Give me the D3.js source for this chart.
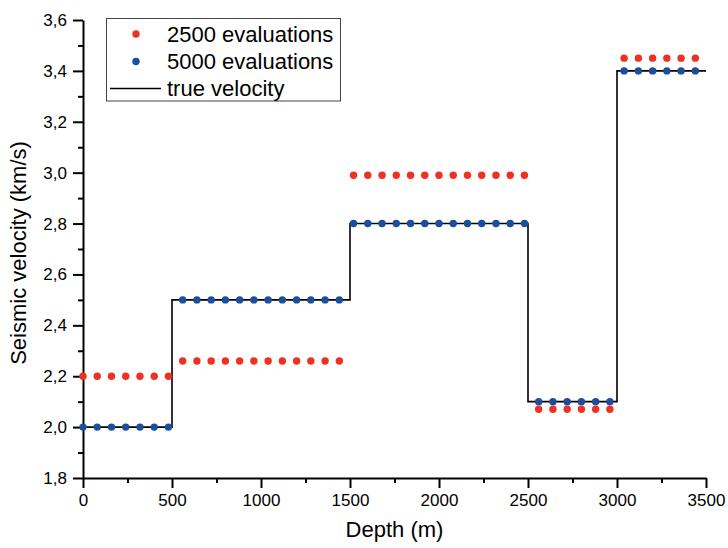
<!DOCTYPE html>
<html>
<head>
<meta charset="utf-8">
<script src="https://cdn.jsdelivr.net/npm/d3@7"></script>
<style>
  body { margin: 0; background: #fff; }
  svg { display: block; font-family: "Liberation Sans", Arial, sans-serif; }
</style>
</head>
<body>
<script>
var width = 728;
var height = 548;
var margin = { top: 20, right: 22, bottom: 70, left: 83 };

// sampled depths (m)
var depths = [0, 80, 160, 240, 320, 400, 480,
  560, 640, 720, 800, 880, 960, 1040, 1120, 1200, 1280, 1360, 1440,
  1520, 1600, 1680, 1760, 1840, 1920, 2000, 2080, 2160, 2240, 2320, 2400, 2480,
  2560, 2640, 2720, 2800, 2880, 2960,
  3040, 3120, 3200, 3280, 3360, 3440];

var vel2500 = [2.2, 2.2, 2.2, 2.2, 2.2, 2.2, 2.2,
  2.26, 2.26, 2.26, 2.26, 2.26, 2.26, 2.26, 2.26, 2.26, 2.26, 2.26, 2.26,
  2.99, 2.99, 2.99, 2.99, 2.99, 2.99, 2.99, 2.99, 2.99, 2.99, 2.99, 2.99, 2.99,
  2.07, 2.07, 2.07, 2.07, 2.07, 2.07,
  3.45, 3.45, 3.45, 3.45, 3.45, 3.45];

var vel5000 = [2.0, 2.0, 2.0, 2.0, 2.0, 2.0, 2.0,
  2.5, 2.5, 2.5, 2.5, 2.5, 2.5, 2.5, 2.5, 2.5, 2.5, 2.5, 2.5,
  2.8, 2.8, 2.8, 2.8, 2.8, 2.8, 2.8, 2.8, 2.8, 2.8, 2.8, 2.8, 2.8,
  2.1, 2.1, 2.1, 2.1, 2.1, 2.1,
  3.4, 3.4, 3.4, 3.4, 3.4, 3.4];

// true model: layer tops and velocities
var layerTop = [0, 500, 1500, 2500, 3000, 3500];
var layerVel = [2.0, 2.5, 2.8, 2.1, 3.4, 3.4];

var xTicks = [0, 500, 1000, 1500, 2000, 2500, 3000, 3500];
var yTicks = [1.8, 2.0, 2.2, 2.4, 2.6, 2.8, 3.0, 3.2, 3.4, 3.6];

var seriesNames = ["2500 evaluations", "5000 evaluations", "true velocity"];
var red = "#ef3124";
var blue = "#1c4e9e";

var svg = d3.select("body").append("svg")
  .attr("width", width)
  .attr("height", height);

var x = d3.scaleLinear().domain([0, 3500]).range([margin.left, width - margin.right]);
var y = d3.scaleLinear().domain([1.8, 3.6]).range([height - margin.bottom, margin.top]);

var fmt = function(d) { return d3.format(".1f")(d).replace(".", ","); };

// minor ticks
var xMinor = d3.range(250, 3500, 500);
var yMinor = d3.range(1.9, 3.6, 0.2);

svg.append("g")
  .attr("transform", "translate(0," + y(1.8) + ")")
  .call(d3.axisBottom(x).tickValues(xTicks).tickSize(10).tickPadding(6).tickSizeOuter(0).tickFormat(d3.format("d")));
svg.append("g")
  .attr("transform", "translate(0," + y(1.8) + ")")
  .call(d3.axisBottom(x).tickValues(xMinor).tickSize(5).tickSizeOuter(0).tickFormat(""))
  .select(".domain").remove();

svg.append("g")
  .attr("transform", "translate(" + x(0) + ",0)")
  .call(d3.axisLeft(y).tickValues(yTicks).tickSize(10).tickPadding(6).tickSizeOuter(0).tickFormat(fmt));
svg.append("g")
  .attr("transform", "translate(" + x(0) + ",0)")
  .call(d3.axisLeft(y).tickValues(yMinor).tickSize(5).tickSizeOuter(0).tickFormat(""))
  .select(".domain").remove();

svg.selectAll(".domain").attr("stroke", "#000").attr("stroke-width", 2);
svg.selectAll(".tick line").attr("stroke", "#000").attr("stroke-width", 2);
svg.selectAll(".tick text").attr("fill", "#000").style("font-size", "17px");

// axis titles
svg.append("text")
  .attr("x", (x(0) + x(3500)) / 2)
  .attr("y", 537)
  .attr("text-anchor", "middle")
  .style("font-size", "22px")
  .text("Depth (m)");

svg.append("text")
  .attr("transform", "translate(26," + 253 + ") rotate(-90)")
  .attr("text-anchor", "middle")
  .style("font-size", "22px")
  .text("Seismic velocity (km/s)");

// true velocity step line
var line = d3.line()
  .x(function(d, i) { return x(layerTop[i]); })
  .y(function(d) { return y(d); })
  .curve(d3.curveStepAfter);

svg.append("path")
  .datum(layerVel)
  .attr("d", line)
  .attr("fill", "none")
  .attr("stroke", "#000")
  .attr("stroke-width", 1.6);

// points
svg.append("g").selectAll("circle")
  .data(vel2500)
  .enter().append("circle")
  .attr("cx", function(d, i) { return x(depths[i]); })
  .attr("cy", function(d) { return y(d); })
  .attr("r", 3.7)
  .attr("fill", red);

svg.append("g").selectAll("circle")
  .data(vel5000)
  .enter().append("circle")
  .attr("cx", function(d, i) { return x(depths[i]); })
  .attr("cy", function(d) { return y(d); })
  .attr("r", 3.7)
  .attr("fill", blue);

// legend
var legend = svg.append("g");
legend.append("rect")
  .attr("x", 106.5).attr("y", 18.5)
  .attr("width", 234).attr("height", 82.5)
  .attr("fill", "#fff")
  .attr("stroke", "#444")
  .attr("stroke-width", 1);

var rowY = [34, 61.5, 88.5];
legend.append("circle").attr("cx", 136).attr("cy", rowY[0]).attr("r", 3.7).attr("fill", red);
legend.append("circle").attr("cx", 136).attr("cy", rowY[1]).attr("r", 3.7).attr("fill", blue);
legend.append("line")
  .attr("x1", 110).attr("x2", 161)
  .attr("y1", rowY[2]).attr("y2", rowY[2])
  .attr("stroke", "#000").attr("stroke-width", 1.6);

legend.selectAll("text.lg")
  .data(seriesNames)
  .enter().append("text")
  .attr("class", "lg")
  .attr("x", 167)
  .attr("y", function(d, i) { return rowY[i] + 7.5; })
  .style("font-size", "22px")
  .text(function(d) { return d; });
</script>
</body>
</html>
